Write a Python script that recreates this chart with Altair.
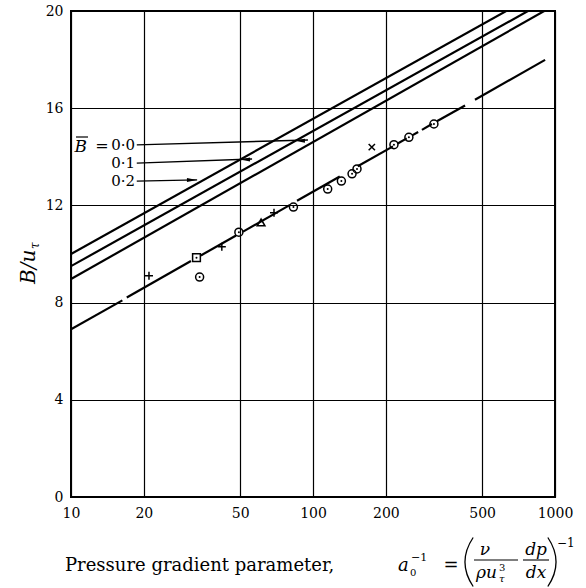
import altair as alt
import pandas as pd

SERIF = "DejaVu Serif"

# ---- axis ticks ---------------------------------------------------------
x_ticks = [10, 20, 50, 100, 200, 500, 1000]
y_ticks = [0, 4, 8, 12, 16, 20]

# ---- log-law lines for three values of the mean wake parameter ----------
wake_labels = ["0·0", "0·1", "0·2"]
wake_x0 = [10, 10, 10]
wake_x1 = [1000, 1000, 1000]
wake_y0 = [10.0, 9.5, 8.97]
wake_y1 = [21.12, 20.62, 20.25]

# ---- broken line through the measurements (drawn piece by piece) --------
seg_x0 = [10, 17.0, 34.4, 51.4, 85.9, 153, 224, 257, 282, 325, 467]
seg_x1 = [16.3, 31.3, 48.1, 80.4, 129, 214, 244, 272, 310, 425, 910]
seg_y0 = [6.90, 8.21, 9.94, 10.92, 12.19, 13.61, 14.55, 14.88, 15.11, 15.46, 16.35]
seg_y1 = [8.09, 9.71, 10.76, 12.02, 13.19, 14.43, 14.76, 15.02, 15.35, 16.11, 17.99]

# ---- measurements, grouped by symbol ------------------------------------
circle_x = [34, 49.4, 83, 115, 131, 145, 152, 216, 249, 316]
circle_y = [9.05, 10.9, 11.93, 12.67, 13.0, 13.3, 13.5, 14.5, 14.8, 15.35]
plus_x = [21, 42, 69]
plus_y = [9.1, 10.3, 11.7]
cross_x = [175]
cross_y = [14.4]
square_x = [33]
square_y = [9.85]
triangle_x = [61]
triangle_y = [11.3]

# ---- arrows from the wake-parameter labels ------------------------------
arrow_x0 = [18.7, 18.7, 18.7]
arrow_x1 = [95.3, 56.0, 33.2]
arrow_y0 = [14.49, 13.74, 13.0]
arrow_y1 = [14.69, 13.91, 13.05]
head_x = [88.3, 52.4, 31.6]
head_y = [14.66, 13.89, 13.05]
head_dir = ["left", "left", "right"]

# ---- layout (plot area in page pixels) ----------------------------------
LEFT, TOP, W, H = 71, 11, 484, 486

x_scale = alt.Scale(type="log", domain=[10, 1000], nice=False)
y_scale = alt.Scale(domain=[0, 20], nice=False)

common_axis = dict(
    title=None, grid=True, gridColor="black", gridOpacity=1, gridWidth=1.2,
    ticks=False, domain=False, labelFont=SERIF, labelFontSize=14,
    labelColor="black",
)
x_axis = alt.Axis(values=x_ticks, format="d", labelFlush=False,
                  labelPadding=9, **common_axis)
y_axis = alt.Axis(values=y_ticks, format="d", labelPadding=8, **common_axis)


def xy(xf="x", yf="y"):
    return dict(
        x=alt.X(f"{xf}:Q", scale=x_scale, axis=x_axis),
        y=alt.Y(f"{yf}:Q", scale=y_scale, axis=y_axis),
    )


def rules(df, width):
    return alt.Chart(df).mark_rule(
        clip=True, color="black", strokeWidth=width, strokeCap="butt"
    ).encode(
        x2=alt.X2("x1:Q"), y2=alt.Y2("y1:Q"), **xy("x0", "y0")
    )


def points(xs, ys, shape, size, filled=False, width=1.5):
    df = pd.DataFrame({"x": xs, "y": ys})
    return alt.Chart(df).mark_point(
        shape=shape, size=size, filled=filled, color="black",
        strokeWidth=width, opacity=1,
    ).encode(**xy())


def text(t, px, py, size, italic=False, align="left", angle=0):
    """Annotation text placed in page pixels."""
    df = pd.DataFrame({"t": [t]})
    return alt.Chart(df).mark_text(
        align=align, baseline="alphabetic", font=SERIF, fontSize=size,
        fontStyle="italic" if italic else "normal", angle=angle,
        color="black",
    ).encode(x=alt.value(px - LEFT), y=alt.value(py - TOP), text="t:N")


def glyph(path, px, py, size, width=1.3, filled=False):
    df = pd.DataFrame({"t": [0]})
    return alt.Chart(df).mark_point(
        shape=path, size=size, filled=filled, color="black",
        strokeWidth=width, opacity=1,
    ).encode(x=alt.value(px - LEFT), y=alt.value(py - TOP))


def hline(px0, px1, py, width=1.1):
    df = pd.DataFrame({"t": [0]})
    return alt.Chart(df).mark_rule(color="black", strokeWidth=width).encode(
        x=alt.value(px0 - LEFT), x2=alt.value(px1 - LEFT),
        y=alt.value(py - TOP),
    )


wake_df = pd.DataFrame({"label": wake_labels, "x0": wake_x0, "x1": wake_x1,
                        "y0": wake_y0, "y1": wake_y1})
seg_df = pd.DataFrame({"x0": seg_x0, "x1": seg_x1, "y0": seg_y0, "y1": seg_y1})
arrow_df = pd.DataFrame({"x0": arrow_x0, "x1": arrow_x1,
                         "y0": arrow_y0, "y1": arrow_y1})
head_df = pd.DataFrame({"x": head_x, "y": head_y, "dir": head_dir})

wake_lines = rules(wake_df, 2.2)
data_line = rules(seg_df, 2.2)
arrows = rules(arrow_df, 1.4)

head_left = alt.Chart(head_df[head_df["dir"] == "left"]).mark_point(
    shape="M-1,0L1,-0.4L1,0.4Z", size=100, filled=True, color="black",
    opacity=1,
).encode(**xy())
head_right = alt.Chart(head_df[head_df["dir"] == "right"]).mark_point(
    shape="M1,0L-1,-0.4L-1,0.4Z", size=100, filled=True, color="black",
    opacity=1,
).encode(**xy())

plus_path = "M-1,0H1M0,-1V1"
cross_path = "M-1,-1L1,1M-1,1L1,-1"

marks = [
    points(circle_x, circle_y, "circle", 64),
    points(circle_x, circle_y, "circle", 4, filled=True),
    points(plus_x, plus_y, plus_path, 64),
    points(cross_x, cross_y, cross_path, 40),
    points(square_x, square_y, "square", 60),
    points(square_x, square_y, "circle", 4, filled=True),
    points(triangle_x, triangle_y, "triangle-up", 60),
]

# wake-parameter labels (B with an overbar)
labels = [
    text("B", 87, 152, 17, italic=True, align="right"),
    hline(76, 88, 137, width=1.2),
    text("=", 102, 151, 16, align="center"),
    text(wake_labels[0], 135, 150, 15, align="right"),
    text(wake_labels[1], 135, 168, 15, align="right"),
    text(wake_labels[2], 135, 186, 15, align="right"),
]

# y-axis title: B/u_tau, rotated
y_title = [
    text("B/u", 35, 284, 20, italic=True, angle=270),
    text("\u03c4", 39, 249, 12, italic=True, angle=270),
]

# x-axis title with the parameter definition
x_title = [
    text("Pressure gradient parameter,", 65, 571, 18),
    text("a", 398, 571, 18, italic=True),
    text("0", 410, 576, 10),
    text("\u22121", 411, 561, 11),
    text("=", 451, 571, 18, align="center"),
    glyph("M0.17,-1Q-0.5,0 0.17,1", 469, 562, 2401),
    text("\u03bd", 485, 555, 17, italic=True, align="center"),
    hline(474, 518, 560),
    text("\u03c1u", 476, 578, 17, italic=True),
    text("3", 499, 571, 10),
    text("\u03c4", 499, 582, 10, italic=True),
    text("dp", 536, 555, 17, italic=True, align="center"),
    hline(523, 549, 560),
    text("dx", 536, 578, 17, italic=True, align="center"),
    glyph("M-0.17,-1Q0.5,0 -0.17,1", 552, 562, 2401),
    text("\u22121", 557, 547, 12),
]

chart = alt.layer(
    wake_lines, data_line, arrows, head_left, head_right,
    *marks, *labels, *y_title, *x_title,
).properties(
    width=W, height=H,
    padding={"left": LEFT, "top": TOP, "right": 586 - LEFT - W,
             "bottom": 588 - TOP - H},
    autosize=alt.AutoSizeParams(type="none"),
    background="white",
).configure_view(stroke="black", strokeWidth=2)

chart.save("out.html", embed_options={"renderer": "svg", "actions": False})
